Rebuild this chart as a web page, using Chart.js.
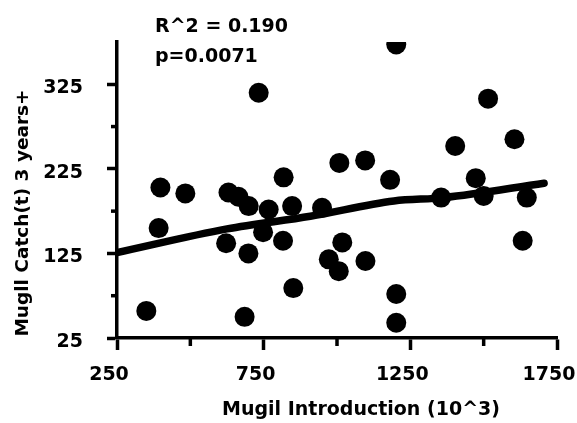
<!DOCTYPE html>
<html>
<head>
<meta charset="utf-8">
<script src="https://cdn.jsdelivr.net/npm/chart.js@4/dist/chart.umd.min.js"></script>
<style>
  html, body { margin: 0; padding: 0; background: #fff; }
  #wrap { width: 577px; height: 423px; }
</style>
</head>
<body>
<div id="wrap"><canvas id="chart" width="577" height="423"></canvas></div>
<script>
// Mugil introduction (10^3) vs catch 3 years later
const introduction = [350, 392, 398, 483, 630, 664, 699, 685, 622, 698, 733, 767, 748, 818, 816, 847, 851,
  949, 1008, 1096, 1181, 1018, 972, 1006, 1097, 1202, 1202, 1202, 1355, 1403, 1473, 1500, 1515, 1605, 1647, 1633];
const catchLater = [57, 155, 203, 196, 197, 192, 181, 50, 137, 125, 315, 177, 150, 215, 140, 181, 84,
  179, 232, 235, 212, 138, 118, 104, 116, 77, 43, 372, 191, 252, 214, 193, 308, 260, 191, 140];

// regression line as drawn in the figure
const fitX = [250, 625, 909, 1194, 1365, 1706];
const fitY = [126, 154, 169, 187, 191, 208];

const xMajor = [250, 750, 1250, 1750];
const xMinor = [500, 1000, 1500];
const yMajor = [25, 125, 225, 325];
const yMinor = [75, 175, 275];

const statLines = ['R^2 = 0.190', 'p=0.0071'];
const xTitle = 'Mugil Introduction (10^3)';
const yTitle = 'Mugll Catch(t) 3 years+';

const FONT = 'DejaVu Sans';

const points = introduction.map((v, i) => ({ x: v, y: catchLater[i] }));
const fit = fitX.map((v, i) => ({ x: v, y: fitY[i] }));

// minor ticks, stats text and axis titles
const extras = {
  id: 'extras',
  afterDraw(chart) {
    const ctx = chart.ctx;
    const xs = chart.scales.x, ys = chart.scales.y;
    const area = chart.chartArea;
    ctx.save();
    ctx.strokeStyle = '#000';
    ctx.lineWidth = 3.5;
    yMinor.forEach(v => {
      const p = ys.getPixelForValue(v);
      ctx.beginPath(); ctx.moveTo(area.left - 6, p); ctx.lineTo(area.left, p); ctx.stroke();
    });
    xMinor.forEach(v => {
      const p = xs.getPixelForValue(v);
      ctx.beginPath(); ctx.moveTo(p, area.bottom); ctx.lineTo(p, area.bottom + 8); ctx.stroke();
    });

    ctx.fillStyle = '#000';
    ctx.font = 'bold 19px "' + FONT + '"';
    ctx.textAlign = 'left';
    ctx.textBaseline = 'alphabetic';
    ctx.fillText(statLines[0], area.left + 38, 32);
    ctx.fillText(statLines[1], area.left + 38, 62);

    ctx.textAlign = 'center';
    ctx.fillText(xTitle, area.left + 244, 415);

    ctx.font = 'bold 18.5px "' + FONT + '"';
    ctx.translate(28, 213);
    ctx.rotate(-Math.PI / 2);
    ctx.fillText(yTitle, 0, 0);
    ctx.restore();
  }
};

new Chart(document.getElementById('chart').getContext('2d'), {
  type: 'scatter',
  data: {
    datasets: [
      {
        label: 'data',
        data: points,
        backgroundColor: '#000',
        borderColor: '#000',
        pointRadius: 10,
        pointHoverRadius: 10,
        borderWidth: 0
      },
      {
        type: 'line',
        label: 'fit',
        data: fit,
        borderColor: '#000',
        borderWidth: 7.5,
        borderCapStyle: 'round',
        borderJoinStyle: 'round',
        cubicInterpolationMode: 'monotone',
        pointRadius: 0,
        fill: false
      }
    ]
  },
  options: {
    responsive: false,
    animation: false,
    events: [],
    layout: { padding: { left: 0, top: 42, right: 20, bottom: 0 } },
    plugins: { legend: { display: false }, tooltip: { enabled: false } },
    scales: {
      x: {
        type: 'linear',
        min: 250,
        max: 1750,
        border: { display: true, color: '#000', width: 3.5 },
        grid: {
          drawOnChartArea: false,
          drawTicks: true,
          tickLength: 12,
          tickWidth: 3.5,
          tickColor: c => xMajor.includes(c.tick.value) ? '#000' : 'rgba(0,0,0,0)'
        },
        ticks: {
          stepSize: 250,
          autoSkip: false,
          maxRotation: 0,
          labelOffset: -8,
          padding: 14,
          color: '#000',
          font: { family: FONT, size: 19, weight: 'bold' },
          callback: v => xMajor.includes(v) ? String(v) : ''
        },
        afterFit(scale) {
          scale.height = 85;
          scale.paddingLeft = 0;
          scale.paddingRight = 0;
        }
      },
      y: {
        type: 'linear',
        min: 25,
        max: 375,
        border: { display: true, color: '#000', width: 3.5 },
        grid: {
          drawOnChartArea: false,
          drawTicks: true,
          tickLength: 10,
          tickWidth: 3.5,
          tickColor: c => yMajor.includes(c.tick.value) ? '#000' : 'rgba(0,0,0,0)'
        },
        ticks: {
          stepSize: 50,
          autoSkip: false,
          labelOffset: 4,
          padding: 24,
          color: '#000',
          font: { family: FONT, size: 19, weight: 'bold' },
          callback: v => yMajor.includes(v) ? String(v) : ''
        },
        afterFit(scale) {
          scale.width = 117;
          scale.paddingTop = 0;
          scale.paddingBottom = 0;
        }
      }
    }
  },
  plugins: [extras]
});
</script>
</body>
</html>
